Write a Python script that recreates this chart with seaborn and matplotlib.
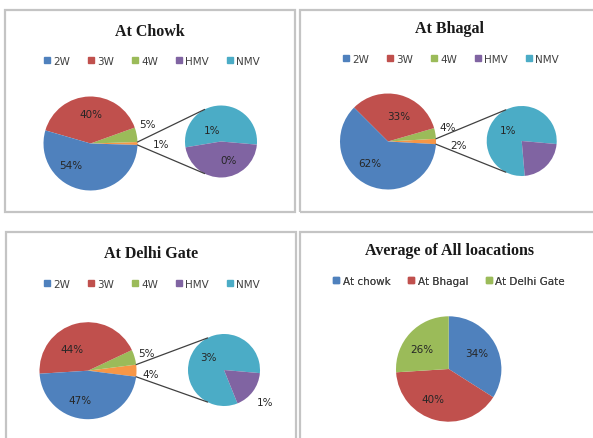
import numpy as np
import matplotlib
matplotlib.use("Agg")
import matplotlib.pyplot as plt
import seaborn as sns
from matplotlib.lines import Line2D
from matplotlib.patches import Rectangle

W, H = 593, 439

# data (percent of traffic)
vehicles = ["2W", "3W", "4W", "HMV", "NMV"]
titles = ["At Chowk", "At Bhagal", "At Delhi Gate"]
share_2w = [54.0, 61.6, 47.0]
share_3w = [40.0, 33.0, 44.0]
share_4w = [5.0, 3.6, 5.0]
share_hmv = [0.46, 0.4, 0.7]
share_nmv = [0.54, 1.4, 3.3]
show_hmv_label = [True, False, True]

avg_title = "Average of All loacations"
locations = ["At chowk", "At Bhagal", "At Delhi Gate"]
avg_share = [34, 40, 26]

sns.set_theme(style="white")
plt.rcParams["font.family"] = ["DejaVu Sans"]

blue, red, green = "#4F81BD", "#C0504D", "#9BBB59"
purple, cyan, orange = "#8064A2", "#4BACC6", "#F79646"
veh_colors = [blue, red, green, purple, cyan]
txt_col = "#262626"

# pixel layout of the four panels; label spots as (angle, radius fraction)
layout = [
    dict(frame=(5, 11, 295, 213), main=(90.5, 144.5, 47), sec=(221, 142.5, 36),
         title=(150, 32), legend=(152, 62),
         main_lab=[(0, 1.5), (18.7, 1.29), (90, 0.63), (228, 0.62)],
         sec_lab=[(128, 0.42), (-69, 0.55)]),
    dict(frame=(300, 11, 600, 213), main=(388, 142.5, 48), sec=(521.7, 142, 35),
         title=(449, 28.5), legend=(451, 60),
         main_lab=[(-2.5, 1.48), (13.6, 1.27), (68, 0.57), (230, 0.59)],
         sec_lab=[(140, 0.5), (-40, 1.4)]),
    dict(frame=(6, 233, 296, 450), main=(88, 371.7, 48.5), sec=(224, 371, 36),
         title=(151, 253.5), legend=(152, 284.5),
         main_lab=[(-3, 1.29), (16.8, 1.26), (127, 0.56), (255, 0.63)],
         sec_lab=[(141, 0.56), (-37.7, 1.44)]),
]
avg_layout = dict(frame=(300, 233, 600, 450), pie=(448.7, 370, 52.7),
                  title=(449, 251), legend=(449, 282),
                  lab=[(29.7, 0.61), (243, 0.64), (143.5, 0.64)])

fig = plt.figure(figsize=(W / 100, H / 100), dpi=100)
ax = fig.add_axes([0, 0, 1, 1])


def Y(y):
    return H - y


def pct(v):
    return f"{round(v)}%"


def put(cx, cy, r, spot, txt):
    ang, f = spot
    a = np.deg2rad(ang)
    ax.text(cx + f * r * np.cos(a), cy + f * r * np.sin(a), txt,
            ha="center", va="center", fontsize=7.5, color=txt_col)


def frame(box):
    x0, y0, x1, y1 = box
    ax.add_patch(Rectangle((x0, Y(y1)), x1 - x0, y1 - y0, fill=False,
                           ec="#C4C4C4", lw=1.6))


def legend(labels, colors, pos):
    handles = [Line2D([], [], marker="s", ls="", color=c, markersize=4.5) for c in colors]
    leg = ax.legend(handles, labels, loc="center", bbox_to_anchor=(pos[0], Y(pos[1])),
                    bbox_transform=ax.transData, ncol=len(labels), frameon=False,
                    fontsize=7.5, handlelength=0.6, handletextpad=0.3, columnspacing=1.7,
                    borderpad=0, borderaxespad=0, labelcolor="#404040")
    ax.add_artist(leg)


def title(txt, pos):
    ax.text(pos[0], Y(pos[1]), txt, ha="center", va="center", fontsize=11.5,
            fontweight="bold", family="Liberation Serif", color="#1a1a1a")


for i, lay in enumerate(layout):
    frame(lay["frame"])
    title(titles[i], lay["title"])
    legend(vehicles, veh_colors, lay["legend"])

    other = share_hmv[i] + share_nmv[i]
    vals = [other, share_4w[i], share_3w[i], share_2w[i]]
    cx, cy, r = lay["main"]
    cy = Y(cy)
    wedges, _ = ax.pie(vals, colors=[orange, green, red, blue],
                       startangle=-other / 100 * 180, counterclock=True,
                       center=(cx, cy), radius=r, wedgeprops=dict(linewidth=0))
    for k in range(len(vals)):
        put(cx, cy, r, lay["main_lab"][k], pct(vals[k]))

    sx, sy, sr = lay["sec"]
    sy = Y(sy)
    sec_vals = [share_nmv[i], share_hmv[i]]
    ax.pie(sec_vals, colors=[cyan, purple], startangle=-5,
           counterclock=True, center=(sx, sy), radius=sr,
           wedgeprops=dict(linewidth=0))
    put(sx, sy, sr, lay["sec_lab"][0], pct(sec_vals[0]))
    if show_hmv_label[i]:
        put(sx, sy, sr, lay["sec_lab"][1], pct(sec_vals[1]))

    # connector lines from the "other" slice to the secondary pie
    ow = wedges[0]
    for t_main, t_sec in [(ow.theta2, 117), (ow.theta1, 243)]:
        a, b = np.deg2rad(t_main), np.deg2rad(t_sec)
        ax.plot([cx + r * np.cos(a), sx + sr * np.cos(b)],
                [cy + r * np.sin(a), sy + sr * np.sin(b)], color="#404040", lw=0.9)

frame(avg_layout["frame"])
title(avg_title, avg_layout["title"])
legend(locations, [blue, red, green], avg_layout["legend"])
px, py, pr = avg_layout["pie"]
py = Y(py)
ax.pie(avg_share, colors=[blue, red, green], startangle=90,
       counterclock=False, center=(px, py), radius=pr,
       wedgeprops=dict(linewidth=0))
for k in range(len(avg_share)):
    put(px, py, pr, avg_layout["lab"][k], pct(avg_share[k]))

ax.set_xlim(0, W)
ax.set_ylim(0, H)
ax.set_aspect("equal")
ax.axis("off")

plt.savefig("out.png", dpi=100)
